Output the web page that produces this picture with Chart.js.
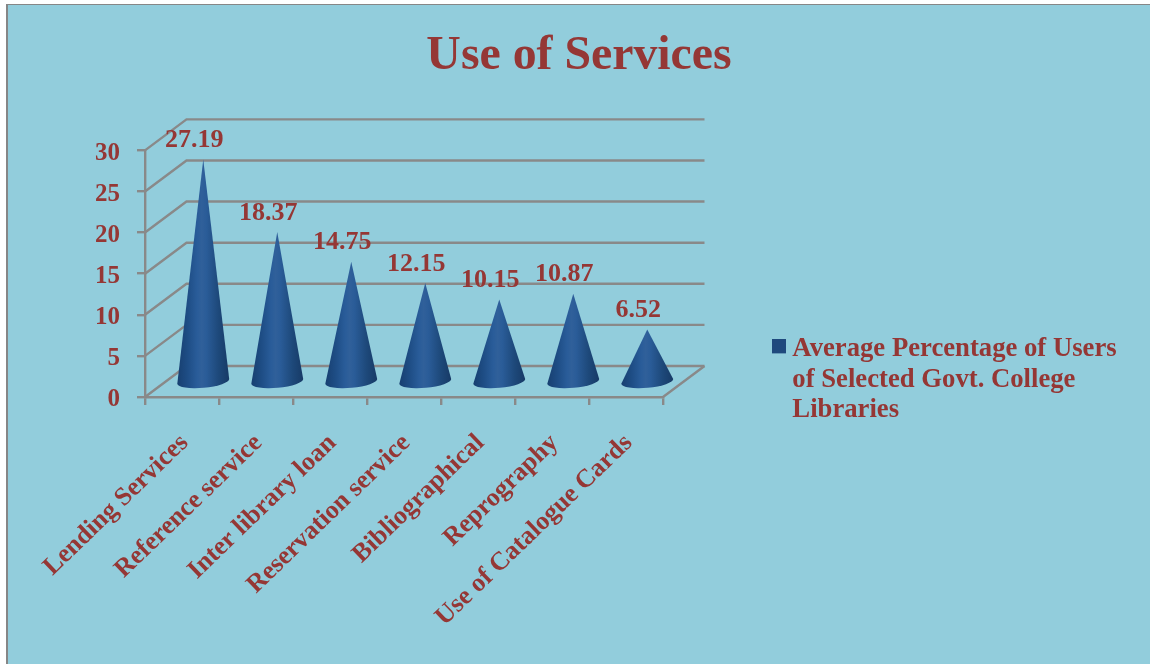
<!DOCTYPE html>
<html>
<head>
<meta charset="utf-8">
<script src="https://cdn.jsdelivr.net/npm/chart.js@4"></script>
<style>
html,body{margin:0;padding:0;background:#fff;width:1150px;height:664px;overflow:hidden}
#frame{position:absolute;left:6px;top:4px;width:1142px;height:659px;border-left:2px solid #868686;border-top:1.5px solid #868686;background:#92CDDC}
canvas{display:block}
</style>
</head>
<body>
<div id="frame"><canvas id="c" width="1142" height="659" style="width:1142px;height:659px"></canvas></div>
<script>
const categories = ["Lending Services","Reference service","Inter library loan","Reservation service","Bibliographical","Reprography","Use of Catalogue Cards"];
const values = [27.19,18.37,14.75,12.15,10.15,10.87,6.52];
const seriesName = ["Average Percentage of Users","of Selected Govt. College","Libraries"];
const titleText = "Use of Services";
const highlights = ["#30609A","#34649E","#3A6AA5","#4576B2","#4172AD","#4576B2","#5484BF"];

const RED = "#953735", GRAY = "#898989", FONT = "'Liberation Serif','Times New Roman',serif";
const DX = 41.5, DY = -31;

class ConeElement extends Chart.BarElement {
  static id = "cone";
  draw(ctx){
    const i = this.$context ? this.$context.dataIndex : 0;
    const cx = this.x + DX/2 + 0.5, baseY = this.base + DY/2 + 1, tipY = this.y + DY/2 + 1.5;
    const rx = this.width/2, ry = 6.5;
    const g = ctx.createLinearGradient(cx-rx,0,cx+rx,0);
    g.addColorStop(0,"#173F70"); g.addColorStop(0.2,"#1E4D85");
    g.addColorStop(0.38,"#295C99"); g.addColorStop(0.47,highlights[i]);
    g.addColorStop(0.56,"#2A5C98"); g.addColorStop(0.8,"#1D4879"); g.addColorStop(1,"#173A66");
    ctx.save();
    ctx.beginPath();
    ctx.moveTo(cx,tipY);
    ctx.ellipse(cx,baseY,rx,ry,-0.09,Math.PI,0,true);
    ctx.closePath();
    ctx.fillStyle = g;
    ctx.fill();
    ctx.restore();
  }
}
class ConeController extends Chart.BarController {
  static id = "cone";
  static defaults = {dataElementType:"cone"};
}
Chart.register(ConeElement, ConeController);

const boxIcon = document.createElement("canvas");
boxIcon.width = 14; boxIcon.height = 20;
const bctx = boxIcon.getContext("2d");
bctx.fillStyle = "#1F497D"; bctx.fillRect(0,0,14,14);

const wallPlugin = {
  id:"wall",
  afterLayout(chart){
    const l = chart.legend;
    const pad = l.options.labels.padding;
    const h = l.height;
    l.left = 771 - pad; l.right = chart.width;
    l.top = 331 - pad; l.bottom = l.top + h;
  },
  beforeDatasetsDraw(chart){
    const {ctx, chartArea:a, scales:{y}} = chart;
    ctx.save();
    ctx.strokeStyle = GRAY; ctx.lineWidth = 2.4;
    y.ticks.forEach(t=>{
      const py = y.getPixelForValue(t.value);
      ctx.beginPath();
      ctx.moveTo(a.left,py);
      ctx.lineTo(a.left+DX,py+DY);
      ctx.lineTo(a.right+DX,py+DY);
      ctx.stroke();
    });
    const py0 = y.getPixelForValue(0);
    ctx.beginPath();
    ctx.moveTo(a.right,py0);
    ctx.lineTo(a.right+DX,py0+DY);
    ctx.stroke();
    ctx.restore();
  },
  afterDatasetsDraw(chart){
    const {ctx} = chart;
    const meta = chart.getDatasetMeta(0);
    ctx.save();
    ctx.fillStyle = RED;
    ctx.font = "bold 26px "+FONT;
    ctx.textAlign = "center";
    ctx.textBaseline = "middle";
    meta.data.forEach((el,i)=>{
      ctx.fillText(values[i].toFixed(2), el.x+DX/2-8.5, el.y+DY/2+1.5-19);
    });
    ctx.restore();
  }
};

new Chart(document.getElementById("c"),{
  type:"cone",
  data:{labels:categories,datasets:[{label:seriesName.join(" "),data:values,backgroundColor:"#1F497D",categoryPercentage:1,barPercentage:0.704,clip:false}]},
  plugins:[wallPlugin],
  options:{
    responsive:false,animation:false,
    layout:{padding:{left:0,right:0,top:0,bottom:0}},
    plugins:{
      title:{display:true,text:titleText,color:RED,font:{family:FONT,size:47.8,weight:"bold",lineHeight:1.2},padding:{top:23,bottom:65}},
      legend:{display:true,position:"right",align:"start",maxWidth:487,
        labels:{padding:170,usePointStyle:true,boxWidth:0.01,color:RED,font:{family:FONT,size:26.7,weight:"bold",lineHeight:1.142},
          generateLabels(){return [{text:seriesName,fontColor:RED,fillStyle:"#1F497D",strokeStyle:"#1F497D",lineWidth:0,pointStyle:boxIcon,datasetIndex:0}];}}},
      tooltip:{enabled:false}
    },
    scales:{
      x:{
        afterFit(s){s.height=267;},
        grid:{display:true,drawOnChartArea:false,drawTicks:true,tickLength:8,color:GRAY,lineWidth:2.4,offset:true},
        border:{display:true,color:GRAY,width:2.4},
        ticks:{color:RED,autoSkip:false,maxRotation:44,minRotation:44,padding:23,labelOffset:2.5,font:{family:FONT,size:26,weight:"bold"}}
      },
      y:{
        min:0,max:30,
        afterFit(s){s.width=137;},
        grid:{display:true,drawOnChartArea:false,drawTicks:true,tickLength:8,color:GRAY,lineWidth:2.4},
        border:{display:true,color:GRAY,width:2.4},
        ticks:{stepSize:5,color:RED,padding:17,labelOffset:3,font:{family:FONT,size:25,weight:"bold"}}
      }
    }
  }
});
</script>
</body>
</html>
